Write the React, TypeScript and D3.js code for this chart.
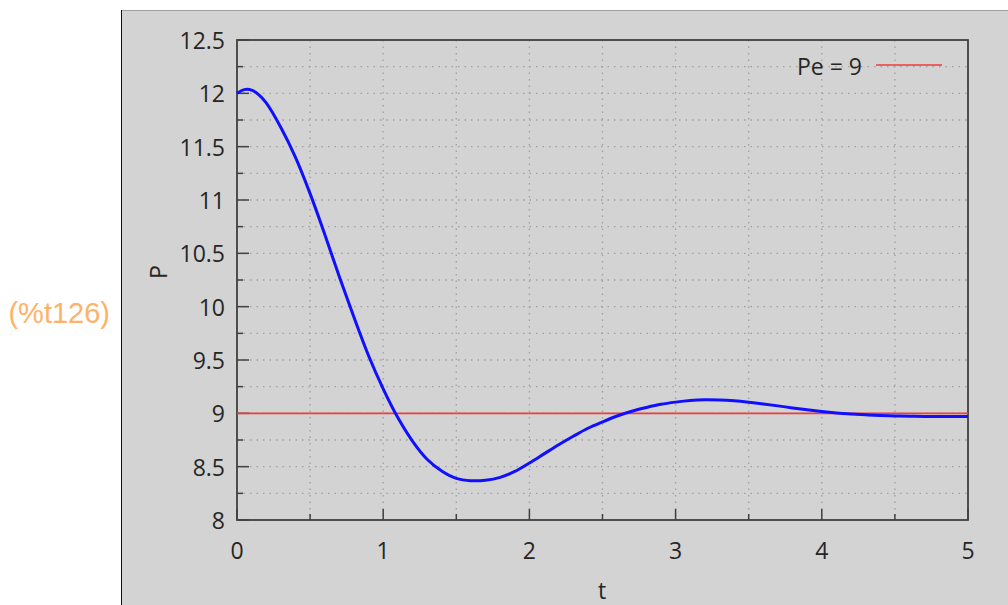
import { useEffect, useMemo } from 'react'
import * as d3 from 'd3'

// values
const tValues = [0, 0.05, 0.1, 0.15, 0.2, 0.3, 0.4, 0.5, 0.6, 0.7, 0.8, 0.9, 1.0, 1.1, 1.2, 1.3, 1.4, 1.5, 1.6, 1.7, 1.8, 1.9, 2.0, 2.1, 2.2, 2.3, 2.4, 2.5, 2.6, 2.7, 2.8, 2.9, 3.0, 3.1, 3.2, 3.3, 3.4, 3.5, 3.6, 3.7, 3.8, 3.9, 4.0, 4.1, 4.2, 4.3, 4.4, 4.5, 4.6, 4.7, 4.8, 4.9, 5.0]
const pValues = [12.0, 12.035, 12.03, 11.985, 11.91, 11.68, 11.4, 11.06, 10.68, 10.28, 9.9, 9.54, 9.23, 8.96, 8.74, 8.57, 8.46, 8.39, 8.368, 8.373, 8.40, 8.455, 8.535, 8.62, 8.705, 8.785, 8.86, 8.92, 8.975, 9.02, 9.055, 9.085, 9.105, 9.12, 9.127, 9.125, 9.117, 9.104, 9.088, 9.07, 9.051, 9.033, 9.017, 9.004, 8.994, 8.986, 8.98, 8.976, 8.973, 8.971, 8.97, 8.97, 8.971]
const equilibrium = 9
const legendLabel = 'Pe = 9'
const xTicks = [0, 1, 2, 3, 4, 5]
const xMinor = [0.5, 1.5, 2.5, 3.5, 4.5]
const yTicks = [8, 8.5, 9, 9.5, 10, 10.5, 11, 11.5, 12, 12.5]
const yMinor = [8.25, 8.75, 9.25, 9.75, 10.25, 10.75, 11.25, 11.75, 12.25]
const outputLabel = '(%t126)'

const W = 1008
const H = 605
const font = '"Open Sans", "Noto Sans", sans-serif'
const textColor = '#262626'

export default function App() {
  useEffect(() => {
    document.body.style.margin = '0'
  }, [])

  const x = useMemo(() => d3.scaleLinear().domain([0, 5]).range([237, 968]), [])
  const y = useMemo(() => d3.scaleLinear().domain([8, 12.5]).range([520, 40]), [])

  const points = tValues.map((t, i) => [t, pValues[i]] as [number, number])
  const line = d3.line<[number, number]>().x((d) => x(d[0])).y((d) => y(d[1])).curve(d3.curveCatmullRom.alpha(0.5))

  const [x0, x1] = x.range()
  const [y0, y1] = y.range()

  return (
    <svg width={W} height={H} style={{ display: 'block' }}>
      <rect x={0} y={0} width={W} height={H} fill="#ffffff" />
      <rect x={121} y={10} width={W - 121} height={H - 10} fill="#d3d3d3" />
      <line x1={121} y1={10.5} x2={W} y2={10.5} stroke="#a0a0a0" strokeWidth={1} />
      <line x1={121.5} y1={10} x2={121.5} y2={H} stroke="#111" strokeWidth={1} />

      <text x={110} y={313} textAnchor="end" dominantBaseline="central" fill="#ffb266" fontSize={29} fontFamily='"Liberation Sans", Arial, sans-serif'>{outputLabel}</text>

      {/* grid */}
      {[...xTicks.slice(1, -1), ...xMinor].map((t) => (
        <line key={`gx${t}`} x1={x(t)} x2={x(t)} y1={y1} y2={y0} stroke="#a0a0a0" strokeWidth={1.3} strokeDasharray="1.5,5" />
      ))}
      {[...yTicks.slice(1, -1), ...yMinor].map((v) => (
        <line key={`gy${v}`} x1={x0} x2={x1} y1={y(v)} y2={y(v)} stroke="#a0a0a0" strokeWidth={1.3} strokeDasharray="1.5,5" />
      ))}

      {/* ticks */}
      {xTicks.map((t) => <line key={`tx${t}`} x1={x(t)} x2={x(t)} y1={y0} y2={y0 - 11} stroke="#404040" strokeWidth={1.5} />)}
      {xMinor.map((t) => <line key={`mx${t}`} x1={x(t)} x2={x(t)} y1={y0} y2={y0 - 6} stroke="#404040" strokeWidth={1.5} />)}
      {yTicks.map((v) => <line key={`ty${v}`} x1={x0} x2={x0 + 12} y1={y(v)} y2={y(v)} stroke="#404040" strokeWidth={1.5} />)}
      {yMinor.map((v) => <line key={`my${v}`} x1={x0} x2={x0 + 6} y1={y(v)} y2={y(v)} stroke="#404040" strokeWidth={1.5} />)}

      {/* frame */}
      <rect x={x0} y={y1} width={x1 - x0} height={y0 - y1} fill="none" stroke="#404040" strokeWidth={1.8} />

      {/* tick labels */}
      {xTicks.map((t) => (
        <text key={`lx${t}`} x={x(t)} y={550} textAnchor="middle" dominantBaseline="central" fill={textColor} fontSize={23} fontFamily={font}>{t}</text>
      ))}
      {yTicks.map((v) => (
        <text key={`ly${v}`} x={225} y={y(v)} textAnchor="end" dominantBaseline="central" fill={textColor} fontSize={23} fontFamily={font}>{v}</text>
      ))}

      <text x={602} y={590} textAnchor="middle" dominantBaseline="central" fill={textColor} fontSize={23} fontFamily={font}>t</text>
      <text transform="translate(158,272) rotate(-90)" textAnchor="middle" dominantBaseline="central" fill={textColor} fontSize={23} fontFamily={font}>P</text>

      {/* equilibrium and solution */}
      <line x1={x0} x2={x1} y1={y(equilibrium)} y2={y(equilibrium)} stroke="#f03c3c" strokeWidth={1.6} />
      <path d={line(points) ?? ''} fill="none" stroke="#1010ff" strokeWidth={3} />

      {/* legend */}
      <text x={862} y={66} textAnchor="end" dominantBaseline="central" fill={textColor} fontSize={23} fontFamily={font}>{legendLabel}</text>
      <line x1={876} x2={942} y1={65} y2={65} stroke="#f03c3c" strokeWidth={1.6} />
    </svg>
  )
}
